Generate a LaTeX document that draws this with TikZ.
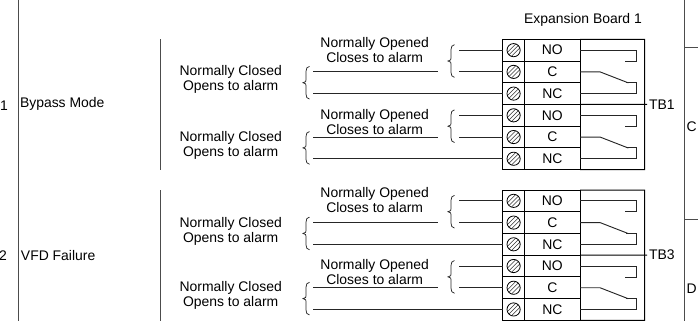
\documentclass[tikz,border=0pt]{standalone}
\usepackage{fontspec}
\setmainfont{Liberation Sans}
\tikzset{
  x=0.75pt,y=-0.75pt,
  every node/.style={font=\fontsize{10.45}{11.25}\selectfont,inner sep=0pt,outer sep=0pt},
  wire/.style={line width=0.7pt,draw=black!85},
  vrule/.style={line width=0.75pt,draw=black!70},
  cell/.style={draw=black,line width=0.75pt,minimum height=16.29pt,anchor=west},
  screwcell/.style={cell,minimum width=16.5pt},
  labelcell/.style={cell,minimum width=41.5pt},
  captiontext/.style={align=center,anchor=center},
  screwline/.style={line width=0.4pt,draw=black!80},
  bracket/.style={line width=0.55pt,draw=black!85},
}
\newcommand{\brk}[3]{% x of tip, top y, bottom y
  \pgfmathsetmacro{\mm}{(#2+#3)/2}
  \draw[bracket] (#1+6.5,#2) .. controls (#1+4,#2+0.5) and (#1+3,#2+2) .. (#1+3,#2+5)
    -- (#1+3,\mm-3) .. controls (#1+3,\mm-1) .. (#1,\mm)
    .. controls (#1+3,\mm+1) .. (#1+3,\mm+3)
    -- (#1+3,#3-5) .. controls (#1+3,#3-2) and (#1+4,#3-0.5) .. (#1+6.5,#3);
}
\begin{document}
\begin{tikzpicture}
\useasboundingbox (0,0) rectangle (698,321);
% outer rules
\coordinate (lt) at (18,0); \coordinate (lb) at (18,321);
\draw[vrule] (lt) -- (lb);
\coordinate (rt) at (684.7,0); \coordinate (rb) at (684.7,321);
\draw[vrule] (rt) -- (rb);
\coordinate (ra) at (698,47.3); \coordinate (rc) at (698,219.3);
\draw[vrule] (684.7,47.3) -- (ra);
\draw[vrule] (684.7,219.3) -- (rc);
\coordinate (ia) at (160.7,39.3); \coordinate (ib) at (160.7,170);
\coordinate (ic) at (160.7,190); \coordinate (id) at (160.7,321);
\draw[vrule] (ia) -- (ib);
\draw[vrule] (ic) -- (id);
% left labels
\node[anchor=west] (n1) at (0,105.5) {1};
\node[anchor=west] (n2) at (-1,255.5) {2};
\node[anchor=west] (bm) at (20,103.5) {Bypass Mode};
\node[anchor=west] (vf) at (21,255.5) {VFD Failure};
\node[anchor=west] (lc) at (686.5,127) {C};
\node[anchor=west] (ld) at (686.5,289) {D};
\node[captiontext] (eb) at (583,20) {Expansion Board 1};
\node[anchor=west] (tb1) at (649,105) {TB1};
\node[anchor=west] (tb3) at (649,255) {TB3};
% captions
\foreach \nm/\yy in {a/79.8,b/145.6,c/231,d/295.8}
  \node[captiontext] (nc\nm) at (230.7,\yy) {Normally Closed\\Opens to alarm};
\foreach \nm/\yy in {a/49.6,b/121.6,c/199.8,d/271.8}
  \node[captiontext] (no\nm) at (374.7,\yy) {Normally Opened\\Closes to alarm};
% terminal blocks
\foreach \b/\top in {A/39.3,B/190}{
  \foreach \i/\lab in {0/NO,1/C,2/NC,3/NO,4/C,5/NC}{
    \pgfmathsetmacro{\yc}{\top+21.72*(\i+0.5)}
    \node[screwcell] (s\b\i) at (502.7,\yc) {};
    \node[labelcell] (l\b\i) at (524.7,\yc) {\lab};
    \foreach \d in {-2.9,0,2.9}{
      \pgfmathsetmacro{\hh}{sqrt(6.6*6.6-\d*\d)*0.7071}
      \pgfmathsetmacro{\dd}{\d*0.7071}
      \draw[screwline] (513.6+\dd-\hh,\yc+\dd+\hh) -- (513.6+\dd+\hh,\yc+\dd-\hh);
    }
    \draw[line width=0.6pt] (513.6,\yc) circle[radius=6.6];
  }
  \coordinate (boxtr) at (644.7,\top);
  \pgfmathsetmacro{\yb}{\top+130.32}
  \coordinate (boxbr) at (644.7,\yb);
  \draw[line width=0.75pt] (l\b0.north east) -- (boxtr) -- (boxbr) -- (l\b5.south east);
  \pgfmathsetmacro{\ym}{\top+65.16}
  \coordinate (mid\b) at (647,\ym);
  \draw[line width=0.75pt] (l\b2.south east) -- (mid\b);
  \foreach \p/\q/\r in {0/1/2,3/4/5}{
    \pgfmathsetmacro{\yq}{\top+21.72*(\q+0.5)}
    \pgfmathsetmacro{\yr}{\top+21.72*(\r+0.5)}
    \pgfmathsetmacro{\yp}{\top+21.72*(\p+0.5)}
    % field wires
    \coordinate (fp\b\p) at (459,\yp);
    \coordinate (fq\b\p) at (459,\yq);
    \coordinate (fl\b\p) at (313.3,\yq);
    \coordinate (fe\b\p) at (437.7,\yq);
    \coordinate (fr\b\p) at (313.3,\yr);
    \draw[wire] (fp\b\p) -- (s\b\p.west);
    \draw[wire] (fq\b\p) -- (s\b\q.west);
    \draw[wire] (fl\b\p) -- (fe\b\p);
    \draw[wire] (fr\b\p) -- (s\b\r.west);
    \brk{448}{\yp-5.5}{\yq+5.5}
    \brk{303}{\yq-5.5}{\yr+5.5}
    % relay contacts
    \draw[wire] (l\b\p.east) -- ++(56,0) -- ++(0,11) -- ++(-11,0);
    \draw[wire] (l\b\q.east) -- ++(20,0) -- ++(28.3,11);
    \draw[wire] (l\b\r.east) -- ++(56,0) -- ++(0,-11) -- ++(-10,0);
  }
}
\end{tikzpicture}
\end{document}
